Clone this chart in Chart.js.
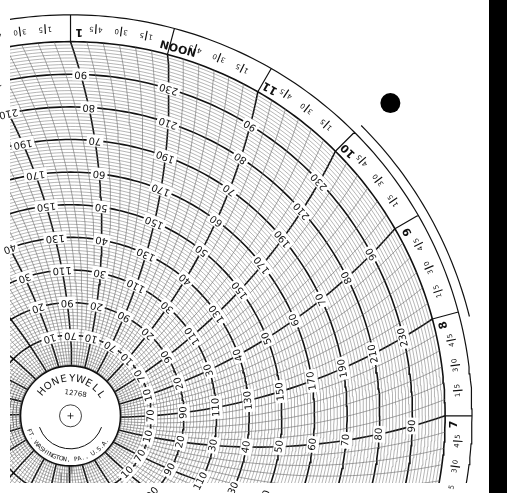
<!DOCTYPE html>
<html>
<head>
<meta charset="utf-8">
<script src="https://cdn.jsdelivr.net/npm/chart.js@4"></script>
<style>
  html, body { margin: 0; padding: 0; background: #fff; overflow: hidden; }
  canvas { display: block; }
</style>
</head>
<body>
<canvas id="dial" width="507" height="493"></canvas>
<script>
// hour labels, counter-clockwise from the 3 o'clock direction, 15 degrees apart
const hourLabels = ['5', '6', '7', '8', '9', '10', '11', 'NOON', '1', '2', '3'];
const firstHourAngle = -30;
const minuteLabels = ['45', '30', '15'];
// value printed on each heavy circle, alternating per hour line
const scaleA = [10, 20, 30, 40, 50, 60, 70, 80, 90];
const scaleB = [70, 90, 110, 130, 150, 170, 190, 210, 230];
const fineCircleUnits = Array.from({length: 99}, (_, i) => i + 1).filter(u => u % 10 !== 0);
const majorCircleUnits = [10, 20, 30, 40, 50, 60, 70, 80, 90];
const subLinesPerHour = 6;

// geometry of the chart paper (pixel units)
const hubR = 50, edgeR = 390, ringR = 418, outerArcR = 428, arcRadius = 600;
const punchHole = {x: 333, y: 326};

const rad = d => d * Math.PI / 180;
const unitToR = u => hubR + (edgeR - hubR) * u / 100;
// curved time line: angle at radius r for a line that meets the edge at theta
const curveAngle = (theta, r) =>
    theta - (Math.acos(r / (2 * arcRadius)) - Math.acos(edgeR / (2 * arcRadius))) * 180 / Math.PI;
const polar = (r, a) => ({x: r * Math.cos(rad(a)), y: r * Math.sin(rad(a))});

function circlePts(list, r, a0 = 0, a1 = 360) {
    for (let a = a0; a <= a1; a += 1) list.push(polar(r, a));
    list.push({x: null, y: null});
}
function spokePts(list, theta) {
    for (let r = hubR; r <= edgeR; r += 10) list.push(polar(r, curveAngle(theta, r)));
    list.push(polar(edgeR, theta));
    list.push({x: null, y: null});
}

const fineCircles = [], majorCircles = [], fineSpokes = [], hourSpokes = [], ringLines = [];
fineCircleUnits.forEach(u => circlePts(fineCircles, unitToR(u)));
majorCircleUnits.forEach(u => circlePts(majorCircles, unitToR(u)));
circlePts(majorCircles, edgeR);
circlePts(ringLines, ringR);
circlePts(ringLines, outerArcR, 14, 45);
for (let h = 0; h < 24; h++) {
    const theta = h * 15;
    spokePts(hourSpokes, theta);
    ringLines.push(polar(edgeR, theta), polar(ringR, theta), {x: null, y: null});
    for (let s = 1; s < subLinesPerHour; s++) spokePts(fineSpokes, theta + s * 15 / subLinesPerHour);
    for (let m = 1; m <= 3; m++) {
        const a = theta - m * 3.75;
        ringLines.push(polar(399, a), polar(409, a), {x: null, y: null});
    }
}

function lineSet(data, color, width) {
    return {type: 'line', data, borderColor: color, borderWidth: width, pointRadius: 0,
            spanGaps: false, tension: 0, fill: false};
}

function drawRot(ctx, text, x, y, rot, font, bg) {
    ctx.save();
    ctx.translate(x, y);
    ctx.rotate(rot);
    ctx.font = font;
    ctx.textAlign = 'center';
    ctx.textBaseline = 'middle';
    if (bg) {
        const w = ctx.measureText(text).width + 4;
        ctx.fillStyle = '#fff';
        ctx.fillRect(-w / 2, -6, w, 12);
    }
    ctx.fillStyle = '#111';
    ctx.fillText(text, 0, 0);
    ctx.restore();
}

const textPlugin = {
    id: 'paperText',
    afterDatasetsDraw(chart) {
        const ctx = chart.ctx;
        const sx = chart.scales.x, sy = chart.scales.y;
        const px = p => [sx.getPixelForValue(p.x), sy.getPixelForValue(p.y)];
        const cx = sx.getPixelForValue(0), cy = sy.getPixelForValue(0);
        // upside-down tangential text (as on the paper)
        const flip = a => rad(270 - a);

        hourLabels.forEach((lab, i) => {
            const theta = firstHourAngle + i * 15;
            const [x, y] = px(polar(400, theta - 1.3));
            drawRot(ctx, lab, x, y, flip(theta), '600 11px "DejaVu Sans", sans-serif', false);
            minuteLabels.forEach((m, j) => {
                const a = theta - (j + 1) * 3.75;
                const [mx, my] = px(polar(404, a));
                drawRot(ctx, m[0] + '  ' + m[1], mx, my, flip(a), '7px "DejaVu Sans", sans-serif', false);
            });
            const vals = (i % 2 === 0) ? scaleA : scaleB;
            vals.forEach((v, k) => {
                const r = unitToR(majorCircleUnits[k]);
                const a = curveAngle(theta, r);
                const [lx, ly] = px(polar(r, a));
                drawRot(ctx, String(v), lx, ly, flip(a), '10px "DejaVu Sans", sans-serif', true);
            });
        });

        // hub
        ctx.save();
        ctx.beginPath();
        ctx.arc(cx, cy, hubR, 0, Math.PI * 2);
        ctx.fillStyle = '#fff';
        ctx.fill();
        ctx.lineWidth = 1.6;
        ctx.strokeStyle = '#111';
        ctx.stroke();
        ctx.beginPath();
        ctx.arc(cx, cy, 11, 0, Math.PI * 2);
        ctx.lineWidth = 0.8;
        ctx.stroke();
        ctx.beginPath();
        ctx.moveTo(cx - 3, cy); ctx.lineTo(cx + 3, cy);
        ctx.moveTo(cx, cy - 3); ctx.lineTo(cx, cy + 3);
        ctx.stroke();
        ctx.beginPath();
        ctx.arc(cx, cy, 33, rad(20), rad(160));
        ctx.lineWidth = 1;
        ctx.stroke();
        ctx.restore();

        const brand = 'HONEYWELL';
        brand.split('').forEach((c, i) => {
            const a = 140 - i * (105 / (brand.length - 1));
            const p = polar(37, a);
            drawRot(ctx, c, cx + p.x, cy - p.y, rad(90 - a), '10px "DejaVu Sans", sans-serif', false);
        });
        drawRot(ctx, '12768', cx + 5, cy - 22, rad(8), '7px "DejaVu Sans", sans-serif', false);
        const place = 'FT. WASHINGTON, PA., U.S.A.';
        place.split('').forEach((c, i) => {
            const a = 200 + i * (125 / (place.length - 1));
            const p = polar(44, a);
            drawRot(ctx, c, cx + p.x, cy - p.y, rad(270 - a), '6px "DejaVu Sans", sans-serif', false);
        });

        // black backing strip along the right edge
        ctx.fillStyle = '#000';
        ctx.fillRect(489, 0, chart.width - 489, chart.height);
    }
};

new Chart(document.getElementById('dial'), {
    type: 'scatter',
    data: {
        datasets: [
            lineSet(fineCircles, '#6a6a6a', 0.5),
            lineSet(fineSpokes, '#6a6a6a', 0.6),
            lineSet(majorCircles, '#111', 1.6),
            lineSet(hourSpokes, '#111', 1.6),
            lineSet(ringLines, '#111', 1.2),
            {type: 'scatter', data: [punchHole], pointRadius: 10, backgroundColor: '#000', borderWidth: 0}
        ]
    },
    options: {
        responsive: false,
        animation: false,
        layout: {padding: 0},
        plugins: {legend: {display: false}, tooltip: {enabled: false}},
        scales: {
            x: {type: 'linear', min: -63, max: 444, display: false},
            y: {type: 'linear', min: -70, max: 423, display: false}
        }
    },
    plugins: [textPlugin]
});
</script>
</body>
</html>
